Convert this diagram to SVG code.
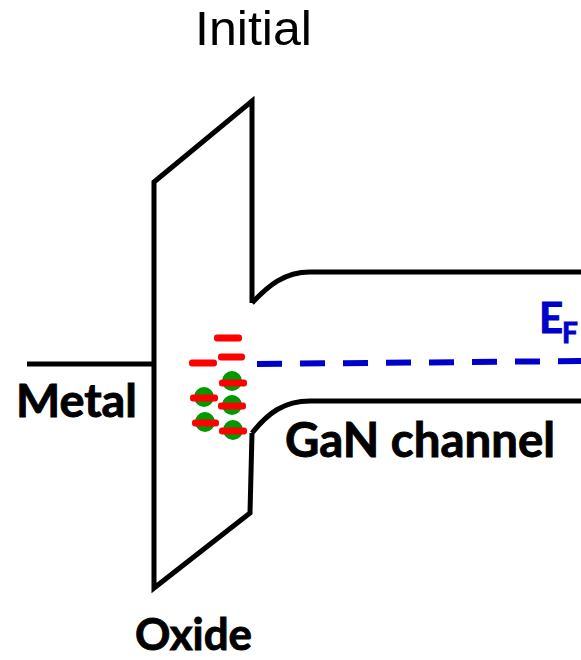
<svg xmlns="http://www.w3.org/2000/svg" width="581" height="660" viewBox="0 0 581 660">
<style>
.ln{fill:none;stroke:#000;stroke-width:5;stroke-linejoin:miter}
.lbl{font-family:Lato,"Open Sans","Liberation Sans",sans-serif;font-weight:bold;fill:#000;stroke:#000;stroke-width:0.9}
.ef{fill:#0000cc;stroke:#0000cc}
.tr{fill:#ff0000}
.el{fill:#009900}
</style>
<rect width="581" height="660" fill="#fff"/>
<g id="title"><text x="195" y="45" font-family="Liberation Sans, Arial, sans-serif" font-size="49" fill="#000" textLength="117" lengthAdjust="spacingAndGlyphs">Initial</text></g>
<g id="bands">
<path class="ln" d="M27,364 L154,364"/>
<path class="ln" d="M252,303 L252,101 L154,182 L154,588 L250,513 L252,433"/>
<path class="ln" d="M252,303 C268,286 284,272 310,272 L581,272"/>
<path class="ln" d="M252,433 C268,413 284,401 310,401 L581,401"/>
<path d="M257,364 L581,361" fill="none" stroke="#0000cc" stroke-width="6" stroke-dasharray="25 18"/>
</g>
<g id="electrons">
<circle class="el" cx="232" cy="381" r="10"/>
<circle class="el" cx="204" cy="397" r="10"/>
<circle class="el" cx="232" cy="405" r="10"/>
<circle class="el" cx="205" cy="422" r="10"/>
<circle class="el" cx="233" cy="430" r="10"/>
</g>
<g id="traps">
<rect class="tr" x="214" y="334.5" width="28" height="7" rx="3"/>
<rect class="tr" x="218" y="353.5" width="27" height="7" rx="3"/>
<rect class="tr" x="189" y="359.5" width="28" height="7" rx="3"/>
<rect class="tr" x="219" y="379.5" width="28" height="7" rx="3"/>
<rect class="tr" x="190" y="394.5" width="28" height="7" rx="3"/>
<rect class="tr" x="218" y="402.5" width="28" height="7" rx="3"/>
<rect class="tr" x="192" y="419.5" width="27" height="7" rx="3"/>
<rect class="tr" x="219" y="427.5" width="28" height="7" rx="3"/>
</g>
<g id="labels">
<text class="lbl" x="16" y="417" font-size="45" textLength="121" lengthAdjust="spacingAndGlyphs">Metal</text>
<text class="lbl" x="135" y="650" font-size="44" textLength="117" lengthAdjust="spacingAndGlyphs">Oxide</text>
<text class="lbl" x="285" y="457" font-size="47" textLength="270" lengthAdjust="spacingAndGlyphs">GaN channel</text>
<text class="lbl ef" x="539" y="333" font-size="42">E</text>
<text class="lbl ef" x="562" y="343" font-size="28">F</text>
</g>
</svg>
